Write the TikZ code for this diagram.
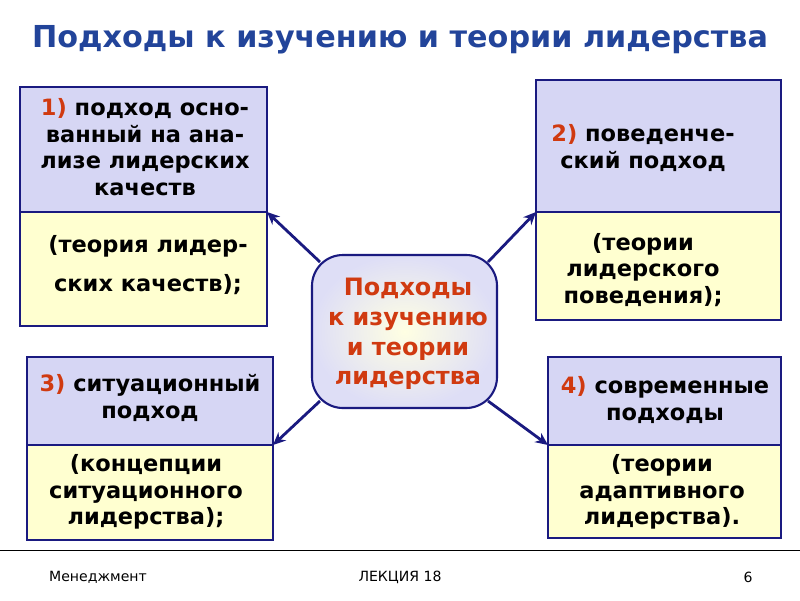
\documentclass[tikz,border=0pt]{standalone}
\usepackage{fontspec}
\setmainfont{DejaVu Sans}
\usetikzlibrary{arrows.meta}
\definecolor{navy}{HTML}{1A1A80}
\definecolor{ttl}{HTML}{22449A}
\definecolor{redn}{HTML}{D03A10}
\definecolor{lav}{HTML}{D6D6F4}
\definecolor{cream}{HTML}{FFFFD0}
\tikzset{
 topbox/.style={draw=navy,line width=1.2pt,fill=lav},
 botbox/.style={draw=navy,line width=1.2pt,fill=cream},
 txt/.style={font=\fontsize{16}{19}\selectfont\bfseries,align=center,text=black},
 conn/.style={draw=navy,line width=2pt,-{Stealth[length=9pt,width=8pt]}},
 foot/.style={font=\fontsize{10}{12}\selectfont}
}
\begin{document}
\begin{tikzpicture}[x=0.025cm,y=-0.025cm]
\useasboundingbox (0,0) rectangle (800,600);
\node[font=\fontsize{21.5}{24}\selectfont\bfseries,text=ttl] (title) at (400,40) {Подходы к изучению и теории лидерства};
% box 1
\draw[topbox] (20,87) rectangle (267,212);
\draw[botbox] (20,212) rectangle (267,326);
\node[txt] (t1) at (145,147) {\textcolor{redn}{1)} подход осно-\\ванный на ана-\\лизе лидерских\\качеств};
\node[txt,font=\fontsize{16}{28}\selectfont\bfseries] (b1) at (148,265) {(теория лидер-\\ских качеств);};
% box 2
\draw[topbox] (536,80) rectangle (781,212);
\draw[botbox] (536,212) rectangle (781,320);
\node[txt] (t2) at (643,148) {\textcolor{redn}{2)} поведенче-\\ский подход};
\node[txt] (b2) at (643,270) {(теории\\лидерского\\поведения);};
% box 3
\draw[topbox] (27,357) rectangle (273,445);
\draw[botbox] (27,445) rectangle (273,540);
\node[txt] (t3) at (150,398) {\textcolor{redn}{3)} ситуационный\\подход};
\node[txt] (b3) at (146,492) {(концепции\\ситуационного\\лидерства);};
% box 4
\draw[topbox] (548,357) rectangle (781,445);
\draw[botbox] (548,445) rectangle (781,538);
\node[txt] (t4) at (665,400) {\textcolor{redn}{4)} современные\\подходы};
\node[txt] (b4) at (662,492) {(теории\\адаптивного\\лидерства).};
% center
\draw[draw=navy,line width=1.5pt,inner color=cream!60,outer color=lav!80,rounded corners=22pt] (312,255) rectangle (497,408);
\node[txt,text=redn,font=\fontsize{17}{21}\selectfont\bfseries] (c) at (408,334) {Подходы\\к изучению\\и теории\\лидерства};
\coordinate (c1) at (320,262);
\coordinate (c2) at (488,262);
\coordinate (c3) at (320,401);
\coordinate (c4) at (488,401);
\coordinate (e1) at (267,212);
\coordinate (e2) at (536,212);
\coordinate (e3) at (273,445);
\coordinate (e4) at (548,445);
\draw[conn] (c1) -- (e1);
\draw[conn] (c2) -- (e2);
\draw[conn] (c3) -- (e3);
\draw[conn] (c4) -- (e4);
% footer
\draw[line width=0.6pt] (0,550) -- (800,550);
\node[foot] (f1) at (98,577) {Менеджмент};
\node[foot] (f2) at (400,577) {ЛЕКЦИЯ 18};
\node[foot] (f3) at (748,577) {6};
\end{tikzpicture}
\end{document}
